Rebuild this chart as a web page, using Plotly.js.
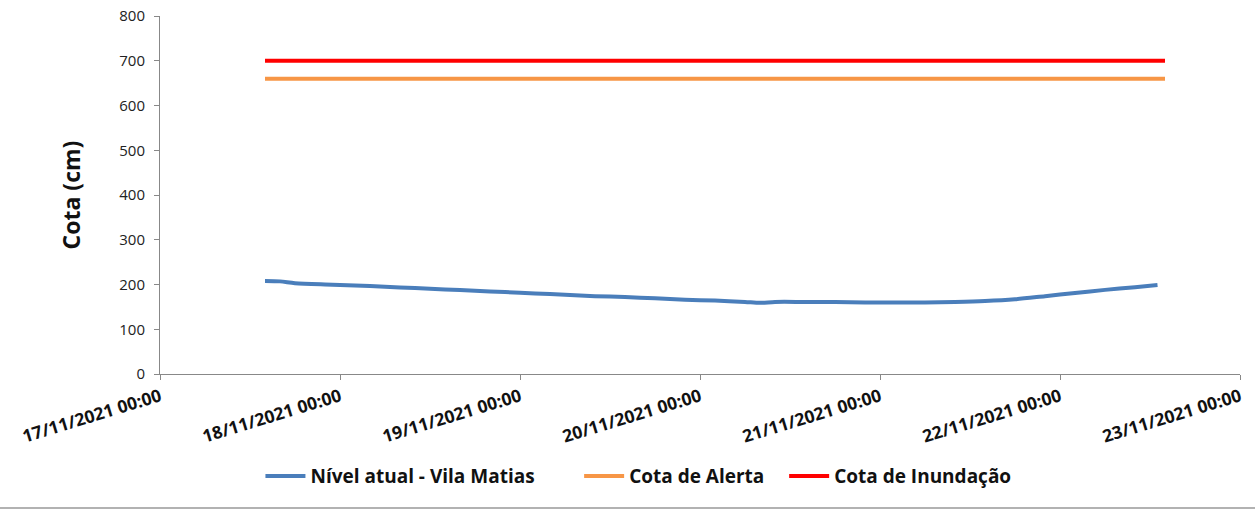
<!DOCTYPE html>
<html>
<head>
<meta charset="utf-8">
<script src="https://cdn.plot.ly/plotly-3.0.1.min.js"></script>
<style>html,body{margin:0;padding:0;background:#fff;}#chart{width:1255px;height:517px;}</style>
</head>
<body>
<div id="chart"></div>
<script>
const times = [
 "2021-11-17 14:00","2021-11-17 16:00","2021-11-17 18:00","2021-11-17 22:00",
 "2021-11-18 02:00","2021-11-18 06:00","2021-11-18 10:00","2021-11-18 14:00",
 "2021-11-18 18:00","2021-11-18 22:00","2021-11-19 02:00","2021-11-19 06:00",
 "2021-11-19 10:00","2021-11-19 14:00","2021-11-19 18:00","2021-11-19 22:00",
 "2021-11-20 02:00","2021-11-20 06:00","2021-11-20 08:00","2021-11-20 10:00",
 "2021-11-20 14:00","2021-11-20 18:00","2021-11-20 22:00","2021-11-21 02:00",
 "2021-11-21 06:00","2021-11-21 10:00","2021-11-21 14:00","2021-11-21 18:00",
 "2021-11-21 22:00","2021-11-22 02:00","2021-11-22 06:00","2021-11-22 10:00",
 "2021-11-22 13:00"
];
const nivel = [208,207,203,200,198,195,192,189,186,183,180,177,174,172,169,166,164,161,159,161,161,161,160,160,160,161,163,167,174,181,188,194,199];
const refTimes = ["2021-11-17 14:00","2021-11-22 14:00"];
const cotaAlerta = [660,660];
const cotaInundacao = [700,700];
const xTickVals = ["2021-11-17","2021-11-18","2021-11-19","2021-11-20","2021-11-21","2021-11-22","2021-11-23"];
const xTickText = ["17/11/2021 00:00","18/11/2021 00:00","19/11/2021 00:00","20/11/2021 00:00","21/11/2021 00:00","22/11/2021 00:00","23/11/2021 00:00"];
const seriesNames = ["Nível atual - Vila Matias","Cota de Alerta","Cota de Inundação"];

const font = "'Open Sans', sans-serif";
const pad1 = '\u00a0\u00a0\u00a0\u00a0\u00a0\u00a0\u00a0\u00a0';
const pad2 = '\u00a0\u00a0\u00a0';
const traces = [
 {x: times, y: nivel, type:'scatter', mode:'lines', name:'<b>'+seriesNames[0]+'</b>'+pad1,
  line:{color:'#4a7ebb', width:4, shape:'spline', smoothing:0.8}},
 {x: refTimes, y: cotaAlerta, type:'scatter', mode:'lines', name:'<b>'+seriesNames[1]+'</b>'+pad2,
  line:{color:'#f79646', width:4}},
 {x: refTimes, y: cotaInundacao, type:'scatter', mode:'lines', name:'<b>'+seriesNames[2]+'</b>',
  line:{color:'#ff0000', width:4}}
];
const layout = {
 width:1255, height:517,
 margin:{l:160, r:15, t:16, b:143},
 paper_bgcolor:'#fff', plot_bgcolor:'#fff',
 font:{family:font, color:'#222'},
 showlegend:true,
 legend:{orientation:'h', x:0.443, xanchor:'center', y:-0.285, yanchor:'middle',
   font:{size:19, family:font, color:'#111'}, itemwidth:40, traceorder:'normal'},
 xaxis:{type:'date', range:['2021-11-17','2021-11-23'], tickmode:'array',
   tickvals:xTickVals, ticktext:xTickText.map(t=>'<b>'+t+'</b>'), tickangle:-17,
   tickfont:{size:17.5, family:font, color:'#111'},
   showgrid:false, zeroline:false, showline:true, linecolor:'#888', linewidth:1,
   ticks:'outside', ticklen:5, tickcolor:'#888'},
 yaxis:{range:[0,800], dtick:100, tick0:0, showgrid:false, zeroline:false,
   showline:true, linecolor:'#888', linewidth:1, ticks:'outside', ticklen:5, tickcolor:'#888',
   tickfont:{size:15, family:font, color:'#222'}, ticklabelstandoff:6,
   title:{text:'<b>Cota (cm)</b>', font:{size:23, family:font, color:'#111'}, standoff:32}},
 shapes:[{type:'line', xref:'paper', yref:'paper', x0:-160/1080, x1:1095/1080,
   y0:(374-508)/358, y1:(374-508)/358, line:{color:'#999', width:1.5}}]
};
Plotly.newPlot('chart', traces, layout, {staticPlot:true, displayModeBar:false});
</script>
</body>
</html>
